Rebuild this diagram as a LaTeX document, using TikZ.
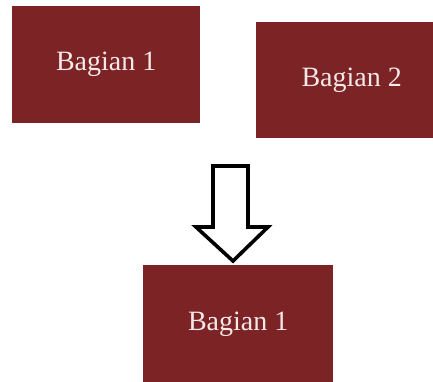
\documentclass[tikz,border=0pt]{standalone}
\usepackage{fontspec}
\setmainfont{Liberation Serif}
\definecolor{boxred}{HTML}{7C2326}
\definecolor{boxtext}{HTML}{F6E8E8}
\begin{document}
\begin{tikzpicture}[x=1pt,y=-1pt,
  part/.style={fill=boxred, draw=none, text=boxtext, inner sep=0pt,
    font=\fontsize{28}{33}\selectfont, anchor=north west},
  blockarrow/.style={draw=black, line width=3.6pt, fill=white, line join=miter}]
\useasboundingbox (0,0) rectangle (433,381);
\clip (0,0) rectangle (433,381);
\node[part, minimum width=188pt, minimum height=117pt] (b1) at (12,6) {Bagian 1};
\node[part, minimum width=191pt, minimum height=116pt] (b2) at (256,22) {Bagian 2};
\node[part, minimum width=190pt, minimum height=118pt] (b3) at (143,265) {Bagian 1};
\coordinate (tip) at (233,261);
\draw[blockarrow] (213,166) -- (248,166) -- (248,227) -- (268,227) -- (tip) -- (196,227) -- (213,227) -- cycle;
\end{tikzpicture}
\end{document}
